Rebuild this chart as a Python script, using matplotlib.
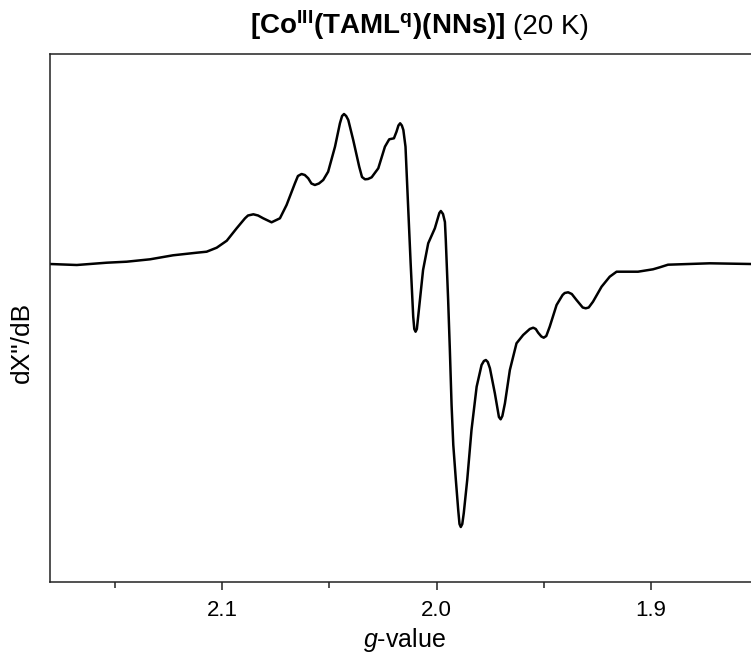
import numpy as np
import matplotlib
matplotlib.use("Agg")
import matplotlib.pyplot as plt

plt.rcParams['font.family'] = ['Liberation Sans', 'DejaVu Sans']
plt.rcParams['mathtext.fontset'] = 'custom'
plt.rcParams['mathtext.rm'] = 'Liberation Sans'
plt.rcParams['mathtext.bf'] = 'Liberation Sans:bold'
plt.rcParams['mathtext.it'] = 'Liberation Sans:italic'

# EPR spectrum (g-value, derivative intensity in arb. units)
g_value = [2.1804, 2.1679, 2.1539, 2.1446, 2.1337, 2.1230, 2.1119, 2.1073, 2.1026,
           2.0979, 2.0933, 2.0894, 2.0880, 2.0855, 2.0833, 2.0809, 2.0770, 2.0731,
           2.0700, 2.0661, 2.0647, 2.0630, 2.0615, 2.0599, 2.0584, 2.0568, 2.0549,
           2.0529, 2.0506, 2.0474, 2.0451, 2.0441, 2.0432, 2.0422, 2.0412, 2.0389,
           2.0361, 2.0348, 2.0334, 2.0320, 2.0303, 2.0272, 2.0241, 2.0221, 2.0199,
           2.0187, 2.0178, 2.0170, 2.0162, 2.0155, 2.0145, 2.0132, 2.0121, 2.0109,
           2.0104, 2.0098, 2.0092, 2.0081, 2.0063, 2.0039, 2.0008, 1.9987, 1.9980,
           1.9970, 1.9961, 1.9957, 1.9946, 1.9938, 1.9930, 1.9922, 1.9910, 1.9899,
           1.9893, 1.9887, 1.9880, 1.9873, 1.9857, 1.9837, 1.9813, 1.9790, 1.9779,
           1.9770, 1.9761, 1.9751, 1.9728, 1.9709, 1.9701, 1.9693, 1.9681, 1.9658,
           1.9627, 1.9596, 1.9565, 1.9549, 1.9537, 1.9526, 1.9511, 1.9500, 1.9488,
           1.9472, 1.9440, 1.9412, 1.9402, 1.9386, 1.9369, 1.9347, 1.9318, 1.9304,
           1.9290, 1.9270, 1.9230, 1.9192, 1.9160, 1.9060, 1.8990, 1.8958, 1.8920,
           1.8725, 1.8534]
signal = [0.0, -1.0, 1.3, 2.3, 4.7, 8.7, 11.3, 12.3, 16.3,
          23.3, 35.7, 45.7, 48.5, 49.7, 48.5, 45.7, 41.7, 45.7,
          59.0, 80.7, 88.0, 90.0, 89.0, 85.7, 80.5, 79.0, 80.5,
          84.0, 92.3, 117.3, 140.7, 148.0, 150.0, 148.0, 144.0, 124.0,
          97.3, 87.0, 84.7, 85.0, 86.7, 95.7, 117.3, 124.7, 125.7,
          132.3, 138.5, 140.7, 138.5, 134.0, 117.3, 54.0, 0.7, -52.7,
          -65.0, -67.7, -65.0, -42.7, -6.0, 20.7, 35.7, 51.0, 53.0,
          50.0, 42.0, 24.0, -36.0, -86.0, -141.0, -181.0, -216.0, -246.0,
          -260.0, -263.0, -260.0, -249.0, -216.0, -166.0, -122.7, -101.0, -97.0,
          -96.0, -98.0, -104.3, -129.3, -153.0, -155.3, -152.0, -139.3, -106.0,
          -79.3, -71.0, -65.0, -63.7, -65.0, -68.7, -72.5, -73.7, -72.0,
          -62.7, -41.0, -31.0, -29.0, -28.3, -30.0, -36.0, -43.5, -44.3,
          -43.5, -37.7, -22.7, -12.7, -7.7, -7.7, -5.3, -3.3, -0.7,
          0.7, 0.0]

major_ticks = [2.1, 2.0, 1.9]
minor_ticks = [2.15, 2.05, 1.95, 1.85]
tick_labels = ['2.1', '2.0', '1.9']

fig = plt.figure(figsize=(7.51, 6.55), dpi=100)
ax = fig.add_axes([50 / 751, 73 / 655, 708 / 751, 528 / 655])

ax.plot(g_value, signal, color='black', lw=1.8, solid_joinstyle='round')

ax.set_xlim(2.1804, 1.8501)
ax.set_ylim(-318, 210)

ax.set_xticks(major_ticks)
ax.set_xticklabels(tick_labels)
ax.set_xticks(minor_ticks, minor=True)
ax.tick_params(axis='x', which='major', direction='out', length=6, width=1.1,
               labelsize=16, pad=7, color='#222222')
ax.tick_params(axis='x', which='minor', direction='out', length=4.5, width=1.1,
               color='#222222')
ax.set_yticks([])
ax.spines['right'].set_visible(False)
for s in ['left', 'top', 'bottom']:
    ax.spines[s].set_linewidth(1.1)
    ax.spines[s].set_color('#222222')

fig.text(404 / 751, 8 / 655, r'$\mathit{g}$-value', ha='center', va='baseline', fontsize=18)
fig.text(22 / 751, 1 - 342 / 655, 'dX"/dB', rotation=90, ha='center', va='center', fontsize=19)

# title: bold compound name followed by plain temperature
t1 = fig.text(250 / 751, 1 - 34 / 655,
              r'$\mathbf{[Co}^{\mathbf{III}}\mathbf{(TAML}^{\mathbf{q}}\mathbf{)(NNs)]}$',
              ha='left', va='baseline', fontsize=20)
renderer = fig.canvas.get_renderer()
bb = t1.get_window_extent(renderer=renderer)
fig.text((bb.x1 + 7) / 751, 1 - 34 / 655, '(20 K)', ha='left', va='baseline', fontsize=20)

fig.savefig('out.png', dpi=100)
